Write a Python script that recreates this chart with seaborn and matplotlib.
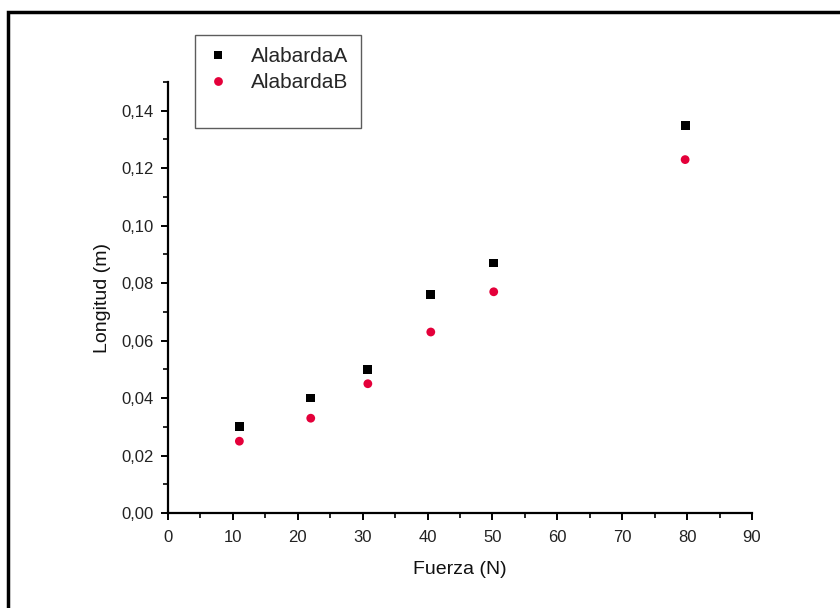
import matplotlib
matplotlib.use("Agg")
import matplotlib.pyplot as plt
import matplotlib.ticker as mticker
from matplotlib.patches import Rectangle
from matplotlib.lines import Line2D
import seaborn as sns
import pandas as pd

fuerza_a = [11.0, 22.0, 30.8, 40.5, 50.2, 79.7]
longitud_a = [0.030, 0.040, 0.050, 0.076, 0.087, 0.135]
fuerza_b = [11.0, 22.0, 30.8, 40.5, 50.2, 79.7]
longitud_b = [0.025, 0.033, 0.045, 0.063, 0.077, 0.123]
series_names = ["AlabardaA", "AlabardaB"]

df = pd.DataFrame({
    "Fuerza": fuerza_a + fuerza_b,
    "Longitud": longitud_a + longitud_b,
    "Serie": [series_names[0]] * len(fuerza_a) + [series_names[1]] * len(fuerza_b),
})

sns.set_style("white")
plt.rcParams["font.family"] = ["Liberation Sans", "DejaVu Sans"]

fig = plt.figure(figsize=(8.4, 6.08), dpi=100)
ax = fig.add_axes([0.2, 0.1562, 0.6952, 0.7089])

sns.scatterplot(data=df, x="Fuerza", y="Longitud", hue="Serie", style="Serie",
                palette={series_names[0]: "#000000", series_names[1]: "#e4003a"},
                markers={series_names[0]: "s", series_names[1]: "o"},
                s=40, linewidth=0, ax=ax, legend=True)

ax.set_xlim(0, 90)
ax.set_ylim(0, 0.15)
ax.xaxis.set_major_locator(mticker.MultipleLocator(10))
ax.xaxis.set_minor_locator(mticker.MultipleLocator(5))
ax.yaxis.set_major_locator(mticker.FixedLocator([0, 0.02, 0.04, 0.06, 0.08, 0.10, 0.12, 0.14]))
ax.yaxis.set_minor_locator(mticker.FixedLocator([0.01, 0.03, 0.05, 0.07, 0.09, 0.11, 0.13, 0.15]))
ax.yaxis.set_major_formatter(mticker.FuncFormatter(lambda v, p: f"{v:.2f}".replace(".", ",")))
ax.xaxis.set_major_formatter(mticker.FuncFormatter(lambda v, p: f"{int(round(v))}"))

for side in ["top", "right"]:
    ax.spines[side].set_visible(False)
for side in ["left", "bottom"]:
    ax.spines[side].set_color("black")
    ax.spines[side].set_linewidth(1.6)

ax.tick_params(axis="x", which="major", pad=7)
ax.tick_params(axis="y", which="major", pad=5)
ax.tick_params(axis="both", which="major", direction="out", length=5, width=1.4,
               color="black", labelsize=12, labelcolor="#222222",
               bottom=True, left=True)
ax.tick_params(axis="both", which="minor", direction="out", length=3.5, width=1.2,
               color="black", bottom=True, left=True)

ax.set_xlabel("Fuerza (N)", fontsize=14, color="#111111", labelpad=12)
ax.set_ylabel("Longitud (m)", fontsize=14, color="#111111", labelpad=8)

handles, labels = ax.get_legend_handles_labels()
blank = Line2D([], [], linestyle="none", marker=None)
if ax.get_legend():
    ax.get_legend().remove()
leg = fig.legend(handles + [blank], labels + [" "], loc="upper left",
                 bbox_to_anchor=(195 / 840, 1 - 35 / 608),
                 frameon=True, fancybox=False, fontsize=15, handletextpad=1.1,
                 borderpad=0.6, labelspacing=0.33, markerscale=1.0,
                 borderaxespad=0, handlelength=1.0)
leg.get_texts()[2].set_fontsize(6)
leg.get_frame().set_edgecolor("#333333")
leg.get_frame().set_linewidth(1.0)

fig.patches.append(Rectangle((8 / 840, -0.1), 1.2, 1 - 12 / 608 + 0.1,
                             transform=fig.transFigure, fill=False,
                             edgecolor="black", linewidth=2.5, zorder=10))

fig.savefig("out.png", dpi=100)
